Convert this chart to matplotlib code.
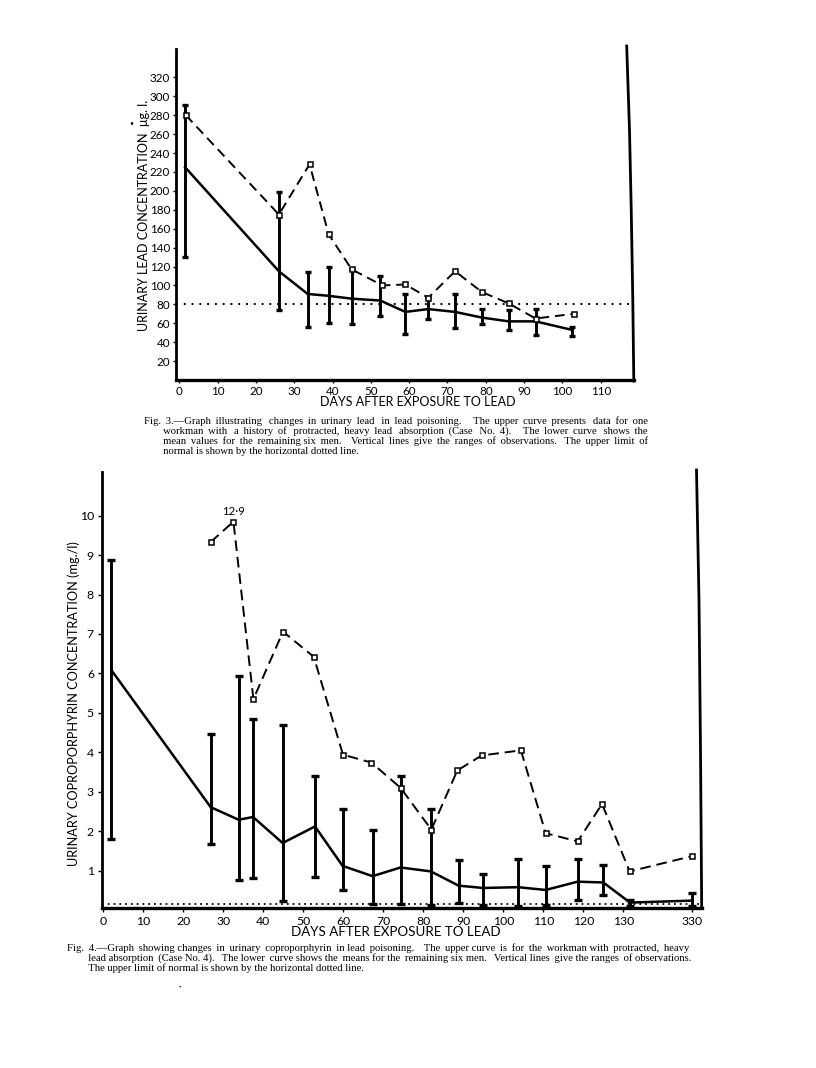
import numpy as np
import matplotlib
matplotlib.use('Agg')
import matplotlib.pyplot as plt
from matplotlib.lines import Line2D

W, H = 816, 1068

# ---- Fig. 3 data: urinary lead (ug/l) ----
lead_case4_days = [1.7, 26, 34, 39, 45, 53, 59, 65, 72, 79, 86, 93, 103]
lead_case4 = [280, 175, 228, 154, 117, 100, 101, 87, 115, 93, 81, 65, 70]
lead_days = [1.5, 26, 33.5, 39, 45, 52.5, 59, 65, 72, 79, 86, 93, 102.5]
lead_mean = [225, 115, 91, 89, 86, 84, 72, 75, 72, 66, 62, 62, 53]
lead_low = [130, 74, 56, 60, 59, 68, 49, 65, 55, 59, 53, 48, 47]
lead_high = [291, 199, 114, 119, 117, 110, 91, 88, 91, 75, 74, 75, 56]
lead_normal = 80
lead_xticks = [0, 10, 20, 30, 40, 50, 60, 70, 80, 90, 100, 110]
lead_yticks = [20, 40, 60, 80, 100, 120, 140, 160, 180, 200, 220, 240, 260, 280, 300, 320]

# ---- Fig. 4 data: urinary coproporphyrin (mg/l) ----
copro_case4_days = [26.8, 32.5, 37.5, 44.9, 52.6, 59.9, 67, 74.3, 82, 88.5, 94.6, 104.4,
                    110.6, 118.6, 124.7, 131.6, 330]
copro_case4 = [9.33, 12.9, 5.35, 7.06, 6.42, 3.94, 3.74, 3.10, 2.04, 3.54, 3.92, 4.05,
               1.95, 1.74, 2.69, 0.98, 1.37]
copro_days = [2, 26.8, 33.8, 37.4, 44.8, 52.9, 59.8, 67.3, 74.3, 81.9, 88.8, 94.9, 103.7,
              110.6, 118.6, 125, 131.7, 330]
copro_mean = [6.08, 2.61, 2.29, 2.36, 1.70, 2.12, 1.12, 0.86, 1.08, 0.98, 0.62, 0.56, 0.58,
              0.51, 0.72, 0.70, 0.19, 0.24]
copro_low = [1.80, 1.68, 0.75, 0.81, 0.22, 0.83, 0.52, 0.15, 0.15, 0.13, 0.17, 0.13, 0.11,
             0.13, 0.26, 0.38, 0.11, 0.11]
copro_high = [8.88, 4.46, 5.93, 4.84, 4.70, 3.39, 2.57, 2.03, 3.41, 2.57, 1.28, 0.92, 1.30,
              1.13, 1.30, 1.14, 0.25, 0.43]
copro_normal = 0.15
copro_cap = 9.85   # off-scale value drawn at top of the axis
copro_xticks = [0, 10, 20, 30, 40, 50, 60, 70, 80, 90, 100, 110, 120, 130, 330]
copro_yticks = [1, 2, 3, 4, 5, 6, 7, 8, 9, 10]

caption3 = ["Fig. 3.\u2014Graph illustrating changes in urinary lead in lead poisoning.  The upper curve presents data for one",
            "workman with a history of protracted, heavy lead absorption (Case No. 4).  The lower curve shows the",
            "mean values for the remaining six men.  Vertical lines give the ranges of observations.  The upper limit of",
            "normal is shown by the horizontal dotted line."]
caption4 = ["Fig. 4.\u2014Graph showing changes in urinary coproporphyrin in lead poisoning.  The upper curve is for the workman with protracted, heavy",
            "lead absorption (Case No. 4).  The lower curve shows the means for the remaining six men.  Vertical lines give the ranges of observations.",
            "The upper limit of normal is shown by the horizontal dotted line."]

SANS = ['Lato', 'DejaVu Sans']
SERIF = ['Liberation Serif', 'DejaVu Serif']
plt.rcParams['font.family'] = SANS
CAP_SIZE = 7.7
THIN = '\u2009'


def fx(px):
    return px / W


def fy(py):
    return 1 - py / H


def box(x0, y0, x1, y1):
    return [fx(x0), fy(y1), fx(x1) - fx(x0), fy(y0) - fy(y1)]


# broken axis: everything past 140 days compressed
def fwd(x):
    x = np.asarray(x, dtype=float)
    return np.where(x > 140, 140 + (x - 140) * (7.3 / 190), x)


def inv(x):
    x = np.asarray(x, dtype=float)
    return np.where(x > 140, 140 + (x - 140) * (190 / 7.3), x)


def style_axes(ax, tick_size):
    for s in ['top', 'right']:
        ax.spines[s].set_visible(False)
    ax.spines['left'].set_linewidth(2.0)
    ax.spines['bottom'].set_linewidth(2.4)
    ax.tick_params(axis='both', direction='out', length=2.5, width=1.0,
                   labelsize=tick_size, pad=2)


fig = plt.figure(figsize=(W / 100, H / 100), dpi=100)
renderer = fig.canvas.get_renderer()


def text_w(s):
    t = fig.text(0, 0, s, fontsize=CAP_SIZE, family=SERIF)
    w = t.get_window_extent(renderer).width
    t.remove()
    return w


def justify(line, target):
    # pad the word gaps with thin spaces until the line fills the target width
    thin_w = (text_w('a' + THIN * 10 + 'a') - text_w('aa')) / 10
    n = int(round((target - text_w(line)) / thin_w))
    parts = line.split(' ')
    gaps = len(parts) - 1
    if n <= 0 or gaps == 0:
        return line
    out = parts[0]
    for j, p in enumerate(parts[1:]):
        extra = int(round((j + 1) * n / gaps)) - int(round(j * n / gaps))
        out += ' ' + THIN * extra + p
    return out


def caption(lines, x0, indent, right, y0, pitch):
    thin_w = (text_w('a' + THIN * 10 + 'a') - text_w('aa')) / 10
    n_ind = int(round(indent / thin_w))
    body = []
    for i, line in enumerate(lines):
        last = i == len(lines) - 1
        start = x0 if i == 0 else x0 + indent
        s = line if last else justify(line, right - start)
        body.append(s if i == 0 else THIN * n_ind + s)
    t = fig.text(fx(x0), fy(y0), '\n'.join(body), ha='left', va='top',
                 fontsize=CAP_SIZE, family=SERIF, linespacing=1.0)
    # adjust line spacing so the lines sit at the measured pitch
    h = t.get_window_extent(renderer).height
    t.set_linespacing((pitch * (len(lines) - 1) + CAP_SIZE * 1.33) / h)
    return t


# ================= Fig. 3 =================
ax1 = fig.add_axes(box(175.7, 49, 634, 380))
ax1.set_xlim(-0.94, 118.7)
ax1.set_ylim(0, 350)
style_axes(ax1, 8.4)
ax1.set_xticks(lead_xticks)
ax1.set_yticks(lead_yticks)
ax1.tick_params(axis='y', pad=1.5)

ax1.axhline(lead_normal, color='black', lw=1.4, ls=(0, (1, 3.0)), zorder=1)
m = np.array(lead_mean)
ax1.errorbar(lead_days, m, yerr=[m - np.array(lead_low), np.array(lead_high) - m],
             fmt='none', ecolor='black', elinewidth=2.1, capsize=2.4, capthick=2.4, zorder=2)
ax1.plot(lead_days, lead_mean, color='black', lw=1.8, zorder=3)
ax1.plot(lead_case4_days, lead_case4, color='black', lw=1.4, ls=(0, (5, 3)),
         marker='s', ms=3.6, mfc='white', mec='black', mew=1.1, zorder=4)

fig.text(fx(418), fy(401.5), 'DAYS AFTER EXPOSURE TO LEAD', ha='center', va='center',
         fontsize=9.0)
fig.text(fx(144), fy(215), 'URINARY LEAD CONCENTRATION  \u03bcg. l.', ha='center', va='center',
         rotation=90, fontsize=9.0)

fig.add_artist(Line2D([fx(626.7), fx(629.5), fx(631.3), fx(632.8), fx(633.8)],
                      [fy(46), fy(130), fy(213), fy(300), fy(381)],
                      color='black', lw=2.0, transform=fig.transFigure))
fig.text(fx(131), fy(123), '\u2022', ha='center', va='center', fontsize=5)

# ================= Fig. 4 =================
ax2 = fig.add_axes(box(102.3, 472.3, 702, 907.7))
ax2.set_xscale('function', functions=(fwd, inv))
ax2.set_xlim(float(inv(-0.3)), float(inv(149.7)))
ax2.set_ylim(0.06, 11.1)
style_axes(ax2, 8.8)
ax2.tick_params(axis='both', length=3, pad=3)
ax2.set_xticks(copro_xticks)
ax2.set_xticklabels([str(t) for t in copro_xticks])
ax2.set_yticks(copro_yticks)
ax2.xaxis.set_minor_locator(plt.NullLocator())

ax2.axhline(copro_normal, color='black', lw=1.3, ls=(0, (1, 2.2)), zorder=1)
m2 = np.array(copro_mean)
ax2.errorbar(copro_days, m2, yerr=[m2 - np.array(copro_low), np.array(copro_high) - m2],
             fmt='none', ecolor='black', elinewidth=2.1, capsize=2.6, capthick=2.4, zorder=2)
ax2.plot(copro_days, copro_mean, color='black', lw=1.8, zorder=3)
c4 = np.minimum(np.array(copro_case4), copro_cap)
ax2.plot(copro_case4_days, c4, color='black', lw=1.4, ls=(0, (5.5, 3)),
         marker='s', ms=3.6, mfc='white', mec='black', mew=1.1, zorder=4)
k = int(np.argmax(copro_case4))
ax2.annotate(f'{copro_case4[k]:.1f}'.replace('.', '\u00b7'),
             (copro_case4_days[k], c4[k]), xytext=(0, 7.5), textcoords='offset points',
             ha='center', va='center', fontsize=8.2)

fig.text(fx(396), fy(931.5), 'DAYS AFTER EXPOSURE TO LEAD', ha='center', va='center',
         fontsize=9.6)
fig.text(fx(74), fy(704), 'URINARY COPROPORPHYRIN CONCENTRATION (mg./l)', ha='center',
         va='center', rotation=90, fontsize=9.2)

fig.add_artist(Line2D([fx(696.5), fx(699), fx(700.5), fx(701.7)],
                      [fy(470), fy(600), fy(750), fy(908)],
                      color='black', lw=2.0, transform=fig.transFigure))
fig.text(fx(180), fy(987), '\u2022', ha='center', va='center', fontsize=3)

# ================= captions =================
caption(caption3, 144, 19.6, 647, 416, 10.3)
caption(caption4, 67, 21.0, 690, 943, 10.4)

fig.savefig('out.png', dpi=100)
